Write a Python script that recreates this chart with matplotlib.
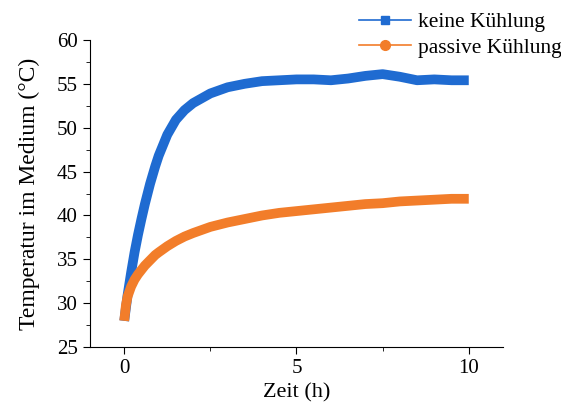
import matplotlib.pyplot as plt
from matplotlib.lines import Line2D
from matplotlib.ticker import MultipleLocator

plt.rcParams["font.family"] = ["Liberation Serif", "DejaVu Serif"]

# values
zeit = [0, 0.05, 0.1, 0.2, 0.3, 0.4, 0.5, 0.6, 0.75, 0.9, 1.0, 1.25, 1.5, 1.75,
        2.0, 2.5, 3.0, 3.5, 4.0, 4.5, 5.0, 5.5, 6.0, 6.5, 7.0, 7.5, 8.0, 8.5,
        9.0, 9.5, 10.0]
keine = [28.0, 29.5, 31.0, 33.5, 35.8, 37.8, 39.6, 41.3, 43.6, 45.6, 46.8, 49.2,
         50.9, 52.0, 52.8, 53.9, 54.6, 55.0, 55.3, 55.4, 55.5, 55.5, 55.4, 55.6,
         55.9, 56.1, 55.8, 55.4, 55.5, 55.4, 55.4]
passiv = [28.0, 29.8, 30.8, 31.9, 32.7, 33.3, 33.8, 34.3, 34.9, 35.5, 35.8, 36.5,
          37.1, 37.6, 38.0, 38.7, 39.2, 39.6, 40.0, 40.3, 40.5, 40.7, 40.9, 41.1,
          41.3, 41.4, 41.6, 41.7, 41.8, 41.9, 41.9]

blau = "#1f6bd1"
orange = "#f27d2a"

fig = plt.figure(figsize=(5.61, 4.07), dpi=100)
ax = fig.add_axes([0.160, 0.147, 0.737, 0.755])

ax.plot(zeit, keine, color=blau, linewidth=7, solid_capstyle="butt")
ax.plot(zeit, passiv, color=orange, linewidth=7, solid_capstyle="butt")

ax.set_xlim(-1, 11)
ax.set_ylim(25, 60)
ax.xaxis.set_major_locator(MultipleLocator(5))
ax.xaxis.set_minor_locator(MultipleLocator(2.5))
ax.yaxis.set_major_locator(MultipleLocator(5))
ax.yaxis.set_minor_locator(MultipleLocator(2.5))
ax.tick_params(which="major", direction="out", length=5, labelsize=15)
ax.tick_params(which="minor", direction="out", length=3)

ax.spines["top"].set_visible(False)
ax.spines["right"].set_visible(False)

ax.set_xlabel("Zeit (h)", fontsize=16, labelpad=4)
ax.set_ylabel("Temperatur im Medium (°C)", fontsize=17, labelpad=12)

handles = [
    Line2D([], [], color=blau, marker="s", markersize=6, linewidth=1.2),
    Line2D([], [], color=orange, marker="o", markersize=7, linewidth=1.2),
]
fig.legend(handles, ["keine Kühlung", "passive Kühlung"], loc="upper right",
           bbox_to_anchor=(1.035, 1.018), frameon=False, fontsize=15.5,
           handlelength=2.4, handletextpad=0.3, labelspacing=0.25)

plt.savefig("out.png")
